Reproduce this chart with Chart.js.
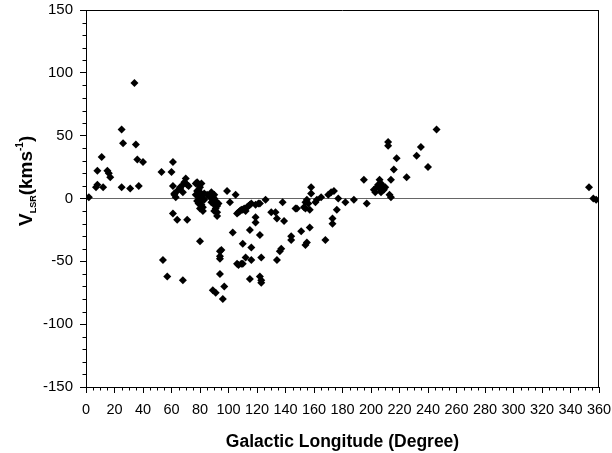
<!DOCTYPE html>
<html><head><meta charset="utf-8">
<script src="https://cdn.jsdelivr.net/npm/chart.js@4/dist/chart.umd.min.js"></script>
<style>html,body{margin:0;padding:0;background:#fff}canvas{display:block}</style>
</head><body>
<canvas id="c" width="612" height="453"></canvas>
<script>
const longitude = [
  2,7,8,12,8,11,15,16,17,25,26,25,31,34,35,36,37,40,53,60,61,61,62,63,66,68,66,68,70,72,62,64,69,71,61,64,71,54,57,68,
  77,78,79,80,79,80,81,80,79,80,81,82,82,78,83,77,78,81,79,80,83,82,
  85,88,89,90,91,90,91,92,92,89,90,91,92,93,88,90,87,
  99,101,105,106,108,110,113,115,116,119,121,122,126,109,111,107,112,114,
  103,80,94,94,94,95,110,112,107,109,110,106,94,89,91,97,96,115,
  119,119,115,122,116,116,123,122,123,123,
  130,133,134,139,138,134,136,137,144,144,148,151,153,155,154,155,156,157,157,158,158,161,162,165,168,170,172,174,173,173,176,177,182,188,147,154,154,
  195,197,202,204,206,207,206,209,210,207,213,214,205,203,208,212,212,214,216,218,225,232,235,240,246,
  353,356,358
];
const velocity = [
  1,9,11,9,22,33,22,20,17,55,44,9,8,92,43,31,10,29,21,21,29,10,4,1,9,5,8,11,16,10,3,6,13,11,-12,-17,-17,-49,-62,-65,
  12,13,11,9,7,5,3,1,-1,-3,-5,-7,-10,-2,4,3,6,12,-4,-8,-1,0,
  3,5,2,0,-2,-5,-8,-11,-14,-1,3,-4,-6,-4,-3,-10,1,
  6,-3,3,-12,-10,-9,-7,-5,-4,-5,-4,-4,-1,-9,-8,-11,-10,-6,
  -27,-34,-42,-46,-48,-41,-36,-47,-53,-52,-52,-52,-60,-73,-75,-70,-80,-64,
  -15,-19,-25,-29,-39,-49,-47,-62,-65,-67,
  -11,-11,-16,-18,-3,-49,-42,-40,-30,-33,-8,-26,-7,-35,-37,-1,-4,-9,-23,9,4,-3,-1,1,-33,3,5,6,-16,-20,-9,0,-3,-1,-8,-8,-3,
  15,-4,7,9,15,12,8,7,9,5,3,1,11,5,10,45,42,15,23,32,17,34,41,25,55,
  9,0,-1
];
const xTickValues = [0,20,40,60,80,100,120,140,160,180,200,220,240,260,280,300,320,340,360];
const yTickValues = [-150,-100,-50,0,50,100,150];

const FONT = "'Liberation Sans', Arial, sans-serif";

const framePlugin = {
  id: 'frame',
  afterDraw(chart) {
    const {ctx, chartArea: a, scales: {x, y}} = chart;
    ctx.save();
    ctx.strokeStyle = '#000';
    ctx.lineWidth = 1;
    ctx.beginPath();
    ctx.moveTo(a.left, a.top + 0.5); ctx.lineTo(a.right, a.top + 0.5);
    ctx.moveTo(a.right - 0.5, a.top); ctx.lineTo(a.right - 0.5, a.bottom);
    for (let v = 0; v <= 360; v += 5) {
      if (v % 20 === 0) continue;
      const px = Math.round(x.getPixelForValue(v)) + 0.5;
      ctx.moveTo(px, a.bottom); ctx.lineTo(px, a.bottom + 3.5);
    }
    for (let v = -150; v <= 150; v += 10) {
      if (v % 50 === 0) continue;
      const py = Math.round(y.getPixelForValue(v)) + 0.5;
      ctx.moveTo(a.left, py); ctx.lineTo(a.left - 3.5, py);
    }
    ctx.stroke();
    // y axis title with subscript / superscript
    ctx.fillStyle = '#000';
    ctx.translate(32, 226);
    ctx.rotate(-Math.PI / 2);
    ctx.textBaseline = 'alphabetic';
    ctx.textAlign = 'left';
    let cx = 0;
    ctx.font = "bold 19px " + FONT;
    ctx.fillText('V', cx, 0); cx += ctx.measureText('V').width;
    ctx.font = "bold 9px " + FONT;
    ctx.fillText('LSR', cx, 4); cx += ctx.measureText('LSR').width;
    ctx.font = "bold 19px " + FONT;
    ctx.fillText('(kms', cx, 0); cx += ctx.measureText('(kms').width;
    ctx.font = "bold 10px " + FONT;
    ctx.fillText('-1', cx, -9); cx += ctx.measureText('-1').width;
    ctx.font = "bold 19px " + FONT;
    ctx.fillText(')', cx, 0);
    ctx.restore();
  }
};

new Chart(document.getElementById('c'), {
  type: 'scatter',
  data: {
    datasets: [{
      data: longitude.map((lon, i) => ({x: lon, y: velocity[i]})),
      pointStyle: 'rectRot',
      pointRadius: 4,
      pointBackgroundColor: '#000',
      pointBorderWidth: 0,
      borderColor: '#000'
    }]
  },
  options: {
    responsive: false,
    animation: false,
    devicePixelRatio: 1,
    layout: {padding: {top: 10, right: 13, left: 0, bottom: 0}},
    plugins: {legend: {display: false}, tooltip: {enabled: false}},
    scales: {
      x: {
        type: 'linear', min: 0, max: 360,
        afterBuildTicks: s => { s.ticks = xTickValues.map(v => ({value: v})); },
        afterFit: s => { s.height = 66; s.paddingLeft = 0; s.paddingRight = 0; },
        border: {color: '#000', width: 1},
        grid: {drawOnChartArea: false, tickLength: 6, color: '#000', tickColor: '#000'},
        ticks: {color: '#000', font: {family: FONT, size: 14.5}, padding: 8, maxRotation: 0, autoSkip: false},
        title: {display: true, text: 'Galactic Longitude (Degree)', color: '#000',
                font: {family: FONT, size: 17.5, weight: 'bold'}, padding: {top: 6, bottom: 0}}
      },
      y: {
        type: 'linear', min: -150, max: 150,
        afterBuildTicks: s => { s.ticks = yTickValues.map(v => ({value: v})); },
        afterFit: s => { s.width = 86; s.paddingTop = 0; s.paddingBottom = 0; },
        border: {color: '#000', width: 1},
        grid: {
          drawOnChartArea: true, tickLength: 6, tickColor: '#000',
          color: c => (c.tick && c.tick.value === 0) ? '#666' : 'rgba(0,0,0,0)'
        },
        ticks: {color: '#000', font: {family: FONT, size: 15}, padding: 7}
      }
    }
  },
  plugins: [framePlugin]
});
</script>
</body></html>
